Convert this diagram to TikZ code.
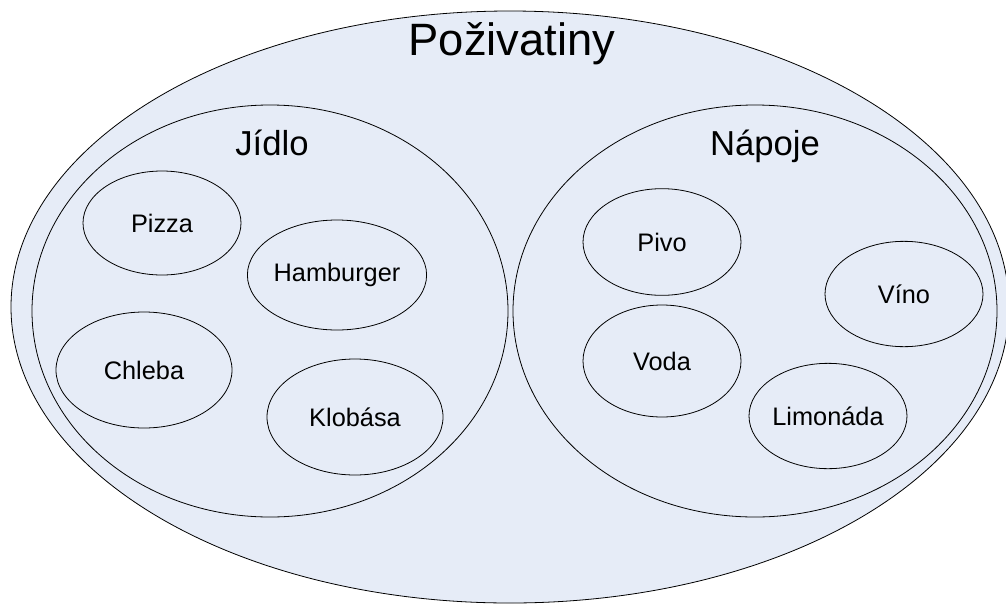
\documentclass[tikz,border=0pt]{standalone}
\usepackage{fontspec}
\setmainfont{Liberation Sans}
\usetikzlibrary{shapes.geometric}

\definecolor{setfill}{RGB}{230,236,247}

\tikzset{
  set/.style={ellipse, draw, fill=setfill, line width=0.6pt, inner sep=0pt},
  item/.style={set, font=\fontsize{19}{22}\selectfont},
  settitle/.style={anchor=base, font=\fontsize{26}{30}\selectfont},
}

\begin{document}
\begin{tikzpicture}[x=0.75pt, y=-0.75pt]
    \useasboundingbox (0,0) rectangle (1006,604);
    \clip (0,0) rectangle (1006,604);

    % outer set
    \node[set, minimum width=748.5pt, minimum height=444pt] (all) at (510,307) {};
    \node[anchor=base, font=\fontsize{34}{40}\selectfont] (allname) at (512,55) {Poživatiny};

    % food and drinks
    \node[set, minimum width=357pt, minimum height=309pt] (jidlo) at (270,311) {};
    \node[set, minimum width=363pt, minimum height=309pt] (napoje) at (755,311) {};
    \node[settitle] (jidloname) at (272,155) {Jídlo};
    \node[settitle] (napojename) at (765,155) {Nápoje};

    % food
    \node[item, minimum width=118.5pt, minimum height=78pt] (pizza) at (162,223) {Pizza};
    \node[item, minimum width=132pt, minimum height=82.5pt] (hamburger) at (337,275) {Hamburger};
    \node[item, minimum width=132pt, minimum height=87pt] (chleba) at (144,370) {Chleba};
    \node[item, minimum width=132pt, minimum height=87pt] (klobasa) at (355,417) {Klobása};

    % drinks
    \node[item, minimum width=118.5pt, minimum height=80pt] (pivo) at (662,242) {Pivo};
    \node[item, minimum width=118.5pt, minimum height=79pt] (vino) at (904,294) {Víno};
    \node[item, minimum width=118.5pt, minimum height=84pt] (voda) at (662,361) {Voda};
    \node[item, minimum width=118.5pt, minimum height=79pt] (limonada) at (828,416) {Limonáda};
  \end{tikzpicture}
\end{document}
